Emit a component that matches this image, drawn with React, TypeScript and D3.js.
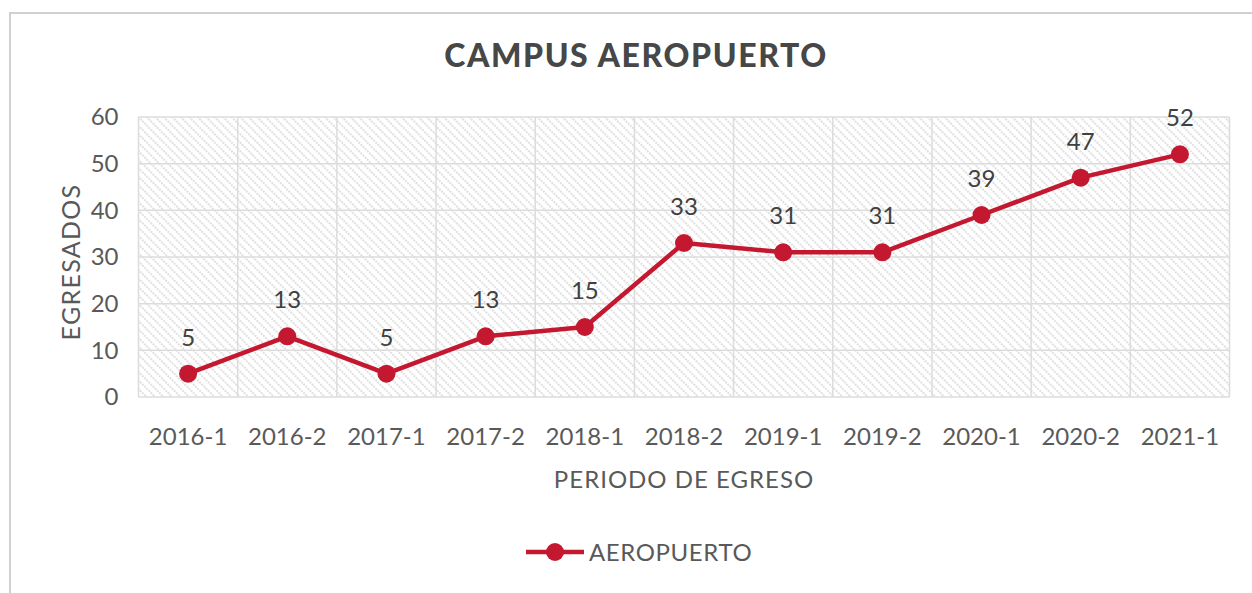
import React, { useRef, useEffect } from 'react';
import * as d3 from 'd3';

const periods = ['2016-1', '2016-2', '2017-1', '2017-2', '2018-1', '2018-2', '2019-1', '2019-2', '2020-1', '2020-2', '2021-1'];
const egresados = [5, 13, 5, 13, 15, 33, 31, 31, 39, 47, 52];
const yTicks = [0, 10, 20, 30, 40, 50, 60];

const W = 1252;
const H = 593;
const FONT = 'Lato, "Noto Sans", sans-serif';
const RED = '#c3182f';
const TEXT = '#595959';

const App = () => {
  const svgRef = useRef<SVGSVGElement>(null);

  useEffect(() => {
    const svg = d3.select(svgRef.current);
    svg.selectAll('*').remove();

    const plot = { left: 138.5, right: 1229.5, top: 117, bottom: 397 };

    // hatch pattern for the plot background
    const defs = svg.append('defs');
    defs.append('pattern')
      .attr('id', 'hatch')
      .attr('patternUnits', 'userSpaceOnUse')
      .attr('width', 6)
      .attr('height', 6)
      .attr('patternTransform', 'rotate(-45)')
      .append('line')
      .attr('x1', 3).attr('y1', 0)
      .attr('x2', 3).attr('y2', 6)
      .attr('stroke', '#dddddd')
      .attr('stroke-width', 1.8)
      .attr('stroke-dasharray', '2,1');

    // chart frame
    svg.append('path')
      .attr('d', `M10,${H} L10,13 L${W},13`)
      .attr('fill', 'none')
      .attr('stroke', '#d0d0d0')
      .attr('stroke-width', 2);

    const x = d3.scaleBand<string>()
      .domain(periods)
      .range([plot.left, plot.right]);

    const y = d3.scaleLinear()
      .domain([0, 60])
      .range([plot.bottom, plot.top]);

    svg.append('rect')
      .attr('x', plot.left)
      .attr('y', plot.top)
      .attr('width', plot.right - plot.left)
      .attr('height', plot.bottom - plot.top)
      .attr('fill', 'url(#hatch)');

    // horizontal gridlines
    svg.append('g')
      .selectAll('line')
      .data(yTicks)
      .enter()
      .append('line')
      .attr('x1', plot.left)
      .attr('x2', plot.right)
      .attr('y1', d => y(d))
      .attr('y2', d => y(d))
      .attr('stroke', '#dcdcdc')
      .attr('stroke-width', 1.5);

    // vertical gridlines at category boundaries
    const bounds = periods.map(p => x(p) as number).concat([plot.right]);
    svg.append('g')
      .selectAll('line')
      .data(bounds)
      .enter()
      .append('line')
      .attr('x1', d => d)
      .attr('x2', d => d)
      .attr('y1', plot.top)
      .attr('y2', plot.bottom)
      .attr('stroke', '#dcdcdc')
      .attr('stroke-width', 1.5);

    // y tick labels
    svg.append('g')
      .selectAll('text')
      .data(yTicks)
      .enter()
      .append('text')
      .attr('x', plot.left - 20)
      .attr('y', d => y(d))
      .attr('dy', '0.35em')
      .attr('text-anchor', 'end')
      .style('font-family', FONT)
      .style('font-size', '24px')
      .attr('fill', TEXT)
      .text(d => d);

    const cx = (p: string) => (x(p) as number) + x.bandwidth() / 2;

    // x tick labels
    svg.append('g')
      .selectAll('text')
      .data(periods)
      .enter()
      .append('text')
      .attr('x', d => cx(d))
      .attr('y', 445)
      .attr('text-anchor', 'middle')
      .style('font-family', FONT)
      .style('font-size', '24px')
      .attr('fill', TEXT)
      .text(d => d);

    // axis titles
    svg.append('text')
      .attr('x', (plot.left + plot.right) / 2)
      .attr('y', 488)
      .attr('text-anchor', 'middle')
      .style('font-family', FONT)
      .style('font-size', '24px')
      .style('letter-spacing', '1px')
      .attr('fill', TEXT)
      .text('PERIODO DE EGRESO');

    svg.append('text')
      .attr('transform', `translate(80, 262) rotate(-90)`)
      .attr('text-anchor', 'middle')
      .style('font-family', FONT)
      .style('font-size', '25px')
      .style('letter-spacing', '1.3px')
      .attr('fill', TEXT)
      .text('EGRESADOS');

    // title
    svg.append('text')
      .attr('x', 636)
      .attr('y', 67)
      .attr('text-anchor', 'middle')
      .style('font-family', FONT)
      .style('font-size', '32px')
      .style('font-weight', '900')
      .style('letter-spacing', '1.6px')
      .attr('fill', '#474747')
      .text('CAMPUS AEROPUERTO');

    // series line
    const line = d3.line<number>()
      .x((d, i) => cx(periods[i]))
      .y(d => y(d));

    svg.append('path')
      .datum(egresados)
      .attr('d', line)
      .attr('fill', 'none')
      .attr('stroke', RED)
      .attr('stroke-width', 4.5)
      .attr('stroke-linejoin', 'round');

    svg.append('g')
      .selectAll('circle')
      .data(egresados)
      .enter()
      .append('circle')
      .attr('cx', (d, i) => cx(periods[i]))
      .attr('cy', d => y(d))
      .attr('r', 9)
      .attr('fill', RED);

    // data labels
    svg.append('g')
      .selectAll('text')
      .data(egresados)
      .enter()
      .append('text')
      .attr('x', (d, i) => cx(periods[i]))
      .attr('y', d => y(d) - 28)
      .attr('text-anchor', 'middle')
      .style('font-family', FONT)
      .style('font-size', '24px')
      .attr('fill', '#404040')
      .text(d => d);

    // legend
    const lg = svg.append('g').attr('transform', 'translate(0, 552)');
    lg.append('line')
      .attr('x1', 526).attr('x2', 584)
      .attr('y1', 0).attr('y2', 0)
      .attr('stroke', RED)
      .attr('stroke-width', 4.5);
    lg.append('circle')
      .attr('cx', 555).attr('cy', 0)
      .attr('r', 9)
      .attr('fill', RED);
    lg.append('text')
      .attr('x', 589)
      .attr('y', 0)
      .attr('dy', '0.36em')
      .style('font-family', FONT)
      .style('font-size', '24px')
      .style('letter-spacing', '0.6px')
      .attr('fill', TEXT)
      .text('AEROPUERTO');
  }, []);

  return (
    <svg
      ref={svgRef}
      width={W}
      height={H}
      style={{ position: 'absolute', left: 0, top: 0, background: '#fff' }}
    />
  );
};

export default App;
